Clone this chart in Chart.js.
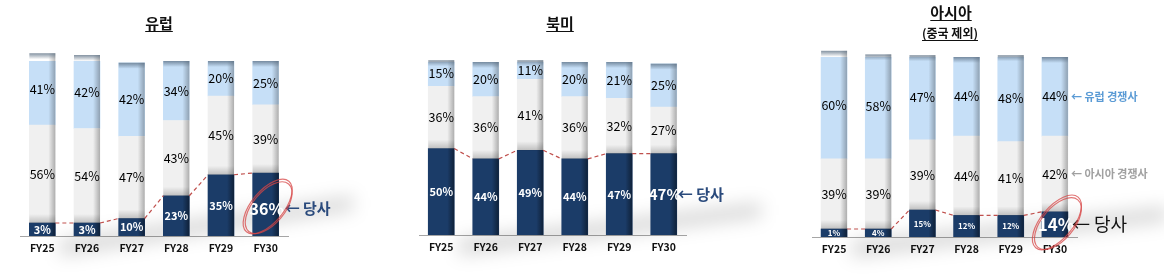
<!DOCTYPE html>
<html><head><meta charset="utf-8">
<script src="https://cdn.jsdelivr.net/npm/chart.js@4/dist/chart.umd.min.js"></script>
<style>
html,body{margin:0;padding:0;background:#fff;width:1164px;height:274px;overflow:hidden;font-family:'Noto Sans CJK KR','Noto Sans',sans-serif}
.wrap{position:absolute;top:0;height:274px}
.title{position:absolute;font-weight:700;text-decoration:underline;text-underline-offset:2px;color:#111;transform:translateX(-50%);white-space:nowrap;line-height:1}
</style></head><body>
<div class="wrap" style="left:0;width:390px"><canvas id="c1"></canvas></div>
<div class="wrap" style="left:390px;width:390px"><canvas id="c2"></canvas></div>
<div class="wrap" style="left:780px;width:384px"><canvas id="c3"></canvas></div>
<div class="title" style="left:159px;top:15px;font-size:15px">유럽</div>
<div class="title" style="left:560px;top:15px;font-size:15px">북미</div>
<div class="title" style="left:951px;top:4px;font-size:15px">아시아</div>
<div class="title" style="left:950px;top:27px;font-size:12px">(중국 제외)</div>
<script>
// ---- data ----
const categories = ['FY25','FY26','FY27','FY28','FY29','FY30'];
const euOurs  = [3, 3, 10, 23, 35, 36];
const euAsian = [56, 54, 47, 43, 45, 39];
const euEuro  = [41, 42, 42, 34, 20, 25];
const naOurs  = [50, 44, 49, 44, 47, 47];
const naAsian = [36, 36, 41, 36, 32, 27];
const naEuro  = [15, 20, 11, 20, 21, 25];
const asOurs  = [1, 4, 15, 12, 12, 14];
const asAsian = [39, 39, 39, 44, 41, 42];
const asEuro  = [60, 58, 47, 44, 48, 44];
const seriesNames = ['당사', '아시아 경쟁사', '유럽 경쟁사'];

const FONT = "'Noto Sans CJK KR','Noto Sans',sans-serif";
const NAVY = '#1B3C68', GRAY = '#F0F0F0', BLUE = '#C6DFF7';

const deco = {
  id: 'deco',
  beforeDatasetsDraw(chart, args, o) {
    const { ctx, chartArea: a } = chart;
    ctx.save();
    ctx.filter = 'blur(9px)';
    ctx.fillStyle = 'rgba(0,0,0,0.16)';
    ctx.beginPath();
    ctx.moveTo(a.left + 40, a.bottom + 4);
    ctx.lineTo(a.right + o.shX, a.bottom - o.shY);
    ctx.lineTo(a.right + o.shX, a.bottom - o.shY + 14);
    ctx.lineTo(a.left + 40, a.bottom + 20);
    ctx.closePath();
    ctx.fill();
    ctx.restore();
  },
  afterDatasetsDraw(chart, args, o) {
    const ctx = chart.ctx;
    const n = chart.data.labels.length;
    const all = [];
    for (let i = 0; i < n; i++) {
      all.push([0, 1, 2].map(d => chart.getDatasetMeta(d).data[i].getProps(['x', 'y', 'base', 'width'], true)));
    }
    ctx.save();
    // dashed trend line of 당사 between bars
    ctx.strokeStyle = '#C0504D';
    ctx.lineWidth = 1.2;
    ctx.setLineDash([4, 3]);
    ctx.beginPath();
    for (let i = 0; i < n - 1; i++) {
      const a = all[i][0], b = all[i + 1][0];
      ctx.moveTo(a.x + a.width / 2, a.y);
      ctx.lineTo(b.x - b.width / 2, b.y);
    }
    ctx.stroke();
    ctx.setLineDash([]);
    for (let i = 0; i < n; i++) {
      const els = all[i];
      const navyTop = els[0].y;
      const segs = [
        { top: els[0].y, bot: els[0].base },
        { top: els[1].y, bot: Math.min(els[1].base, navyTop) },
        { top: els[2].y, bot: els[2].base }
      ];
      const x = els[0].x, w = els[0].width, l = x - w / 2, r = x + w / 2;
      segs.forEach((s, d) => {
        let g = ctx.createLinearGradient(r - 7, 0, r, 0);
        g.addColorStop(0, 'rgba(0,0,0,0)');
        g.addColorStop(1, d === 0 ? 'rgba(0,0,0,0.45)' : 'rgba(0,0,0,0.28)');
        ctx.fillStyle = g;
        ctx.fillRect(r - 7, s.top, 7, s.bot - s.top);
        if (d === 1) {
          g = ctx.createLinearGradient(0, s.bot - 9, 0, s.bot);
          g.addColorStop(0, 'rgba(0,0,0,0)');
          g.addColorStop(1, 'rgba(0,0,0,0.2)');
          ctx.fillStyle = g;
          ctx.fillRect(l, s.bot - 9, w, 9);
        }
        if (d === 2) {
          g = ctx.createLinearGradient(0, s.top, 0, s.top + 6);
          g.addColorStop(0, 'rgba(90,110,130,0.75)');
          g.addColorStop(1, 'rgba(90,110,130,0)');
          ctx.fillStyle = g;
          ctx.fillRect(l, s.top, w, 6);
        }
      });
      // labels
      ctx.textAlign = 'center';
      ctx.textBaseline = 'middle';
      segs.forEach((s, d) => {
        const v = chart.data.datasets[d].data[i];
        const cy = (s.top + s.bot) / 2;
        if (d === 0) {
          const last = i === n - 1;
          const fs = last ? o.lastSize : o.navySize;
          ctx.font = `700 ${fs}px ${FONT}`;
          ctx.fillStyle = '#fff';
          ctx.fillText(v + '%', x + (last ? 1 : 0), cy + (last ? o.lastDy : 0));
        } else {
          ctx.font = `400 12.5px ${FONT}`;
          ctx.fillStyle = '#000';
          ctx.fillText(v + '%', x, cy);
        }
      });
      if (i === n - 1) {
        const cyN = (segs[0].top + segs[0].bot) / 2 + o.lastDy;
        ctx.textAlign = 'left';
        ctx.font = `${o.arrowWeight} ${o.arrowSize}px ${FONT}`;
        ctx.fillStyle = o.arrowColor;
        ctx.fillText('← ' + seriesNames[0], r + o.arrowGap, cyN);
        if (o.legendLabels) {
          ctx.font = `700 11px ${FONT}`;
          ctx.fillStyle = '#5B9BD5';
          ctx.fillText('← ' + seriesNames[2], r + 3, (segs[2].top + segs[2].bot) / 2);
          ctx.fillStyle = '#A0A0A0';
          ctx.fillText('← ' + seriesNames[1], r + 3, (segs[1].top + segs[1].bot) / 2);
        }
        if (o.ellipse) {
          ctx.strokeStyle = 'rgba(215,70,70,0.75)';
          ctx.lineWidth = 1.2;
          for (const k of [0, 2]) {
            ctx.beginPath();
            ctx.ellipse(x + 2 + k * 0.5, cyN - 2 + k * 0.6, 33 - k, 16, -50 * Math.PI / 180, 0, Math.PI * 2);
            ctx.stroke();
          }
        }
      }
    }
    ctx.restore();
  }
};

function makeChart(id, ours, asian, euro, cfg) {
  new Chart(document.getElementById(id), {
    type: 'bar',
    data: {
      labels: categories,
      datasets: [
        { label: seriesNames[0], data: ours, backgroundColor: NAVY, stack: 's', minBarLength: cfg.minBar, barThickness: 26 },
        { label: seriesNames[1], data: asian, backgroundColor: GRAY, stack: 's', barThickness: 26 },
        { label: seriesNames[2], data: euro, backgroundColor: BLUE, stack: 's', barThickness: 26 }
      ]
    },
    options: {
      responsive: true, maintainAspectRatio: false, animation: false,
      layout: { padding: { left: cfg.left, right: cfg.right, top: cfg.top, bottom: 0 } },
      plugins: { legend: { display: false }, tooltip: { enabled: false }, deco: cfg.deco },
      scales: {
        x: {
          stacked: true,
          grid: { display: false, drawTicks: false },
          border: { display: true, color: '#A6A6A6', width: 1 },
          ticks: { padding: 6, color: '#111', font: { family: FONT, size: 10.5, weight: '700' } },
          afterFit: s => { s.height = 274 - cfg.bottom; }
        },
        y: { stacked: true, display: false, min: 0, max: 100 }
      }
    },
    plugins: [deco]
  });
}

makeChart('c1', euOurs, euAsian, euEuro, {
  left: 20, right: 102, top: 61, bottom: 236, minBar: 13,
  deco: { shX: 65, shY: 40, navySize: 11, lastSize: 16, lastDy: 4, arrowSize: 15, arrowWeight: 700, arrowColor: '#2A4A7C', arrowGap: 6, ellipse: true }
});
makeChart('c2', naOurs, naAsian, naEuro, {
  left: 29, right: 94, top: 62, bottom: 235, minBar: 0,
  deco: { shX: 75, shY: 32, navySize: 11, lastSize: 15, lastDy: 0, arrowSize: 15, arrowWeight: 700, arrowColor: '#2A4A7C', arrowGap: 1, ellipse: false }
});
makeChart('c3', asOurs, asAsian, asEuro, {
  left: 32, right: 87, top: 57, bottom: 237, minBar: 8,
  deco: { shX: 90, shY: 30, navySize: 8, lastSize: 17, lastDy: 0, arrowSize: 18, arrowWeight: 400, arrowColor: '#111', arrowGap: 4, ellipse: true, legendLabels: true }
});
</script>
</body></html>
